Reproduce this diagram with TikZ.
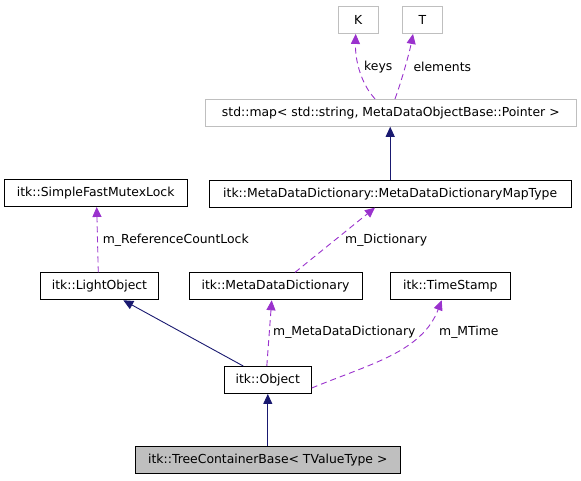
\documentclass[tikz,border=0pt]{standalone}
\usepackage{fontspec}
\setmainfont{DejaVu Sans}
\usetikzlibrary{arrows.meta}
\definecolor{edgepurple}{HTML}{9A32CD}
\definecolor{edgenavy}{HTML}{191970}
\definecolor{boxgray}{HTML}{BFBFBF}
\tikzset{
  box/.style={draw=black, line width=0.9pt, fill=white, inner sep=0pt, minimum height=27pt, font=\fontsize{12.4}{14}\selectfont},
  graybox/.style={box, draw=boxgray},
  curbox/.style={box, fill=boxgray},
  dep/.style={draw=edgepurple, line width=0.9pt, dash pattern=on 6pt off 4pt, -{Triangle[length=10pt,width=9pt,fill=edgepurple,line width=0.9pt]}},
  inh/.style={draw=edgenavy, line width=0.9pt, -{Triangle[length=10pt,width=9pt,fill=edgenavy,line width=0.9pt]}},
  lbl/.style={anchor=west, inner sep=0pt, font=\fontsize{12.4}{14}\selectfont}
}
\begin{document}
\begin{tikzpicture}[x=1pt, y=-1pt]
\useasboundingbox (0,0) rectangle (581,480);
\node[graybox, minimum width=39.5pt] (K) at (358.3,20) {K};
\node[graybox, minimum width=39.5pt] (T) at (422.5,20) {T};
\node[graybox, minimum width=371.7pt] (map) at (390.8,112.8) {std::map< std::string, MetaDataObjectBase::Pointer >};
\node[box, minimum width=361.7pt] (mapt) at (390.2,193.7) {itk::MetaDataDictionary::MetaDataDictionaryMapType};
\node[box, minimum width=183.3pt] (sfml) at (95.7,193) {itk::SimpleFastMutexLock};
\node[box, minimum width=117.6pt] (light) at (99.5,286.3) {itk::LightObject};
\node[box, minimum width=173pt] (mdd) at (275.5,286.3) {itk::MetaDataDictionary};
\node[box, minimum width=119.3pt] (ts) at (450.3,286.3) {itk::TimeStamp};
\node[box, minimum width=87pt] (obj) at (267.8,380) {itk::Object};
\node[curbox, minimum width=265.7pt] (tcb) at (267.8,460) {itk::TreeContainerBase< TValueType >};

\draw[dep] ([xshift=-15.8pt]map.north) .. controls (362,85) and (355,62) .. ([xshift=-2.6pt]K.south);
\node[lbl] (keys) at (364,66.7) {keys};
\draw[dep] ([xshift=4.2pt]map.north) .. controls (402,80) and (410,50) .. ([xshift=-9.5pt]T.south);
\node[lbl] (elem) at (413.3,66.7) {elements};
\draw[inh] (mapt.north) -- (mapt.north |- map.south);
\draw[dep] ([xshift=19.5pt]mdd.north) -- ([xshift=-15.2pt]mapt.south);
\node[lbl] (mdict) at (345,240) {m\_Dictionary};
\draw[dep] ([xshift=-1.2pt]light.north) -- ([xshift=1pt]sfml.south);
\node[lbl] (mref) at (102.7,240) {m\_ReferenceCountLock};
\draw[inh] ([xshift=-24.5pt]obj.north) -- ([xshift=23.8pt]light.south);
\draw[dep] ([xshift=-1pt]obj.north) -- ([xshift=-3.8pt]mdd.south);
\node[lbl] (mmdd) at (273,332) {m\_MetaDataDictionary};
\draw[dep] ([yshift=-8pt]obj.east) .. controls (370,364) and (422,352) .. ([xshift=-8.6pt]ts.south);
\node[lbl] (mtime) at (439,332) {m\_MTime};
\draw[inh] (tcb.north) -- (obj.south);
\end{tikzpicture}
\end{document}
